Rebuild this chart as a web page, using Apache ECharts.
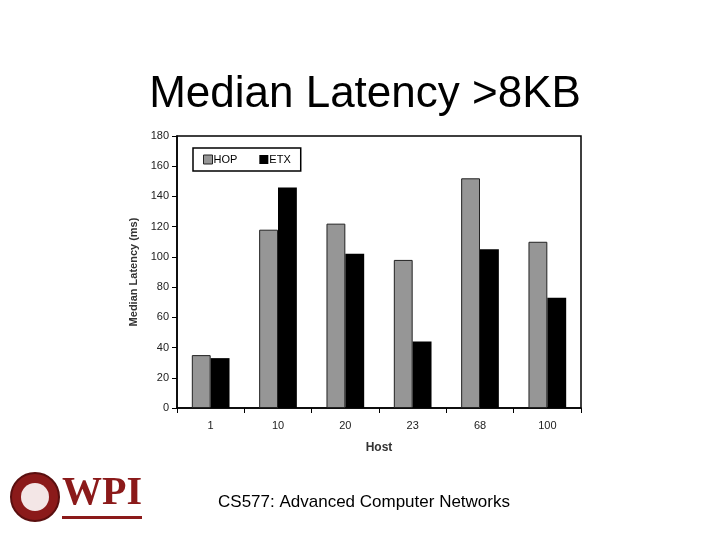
<!DOCTYPE html>
<html><head><meta charset="utf-8">
<script src="https://cdn.jsdelivr.net/npm/echarts@6/dist/echarts.min.js"></script>
<style>html,body{margin:0;padding:0;background:#fff}#c{width:720px;height:540px}</style>
</head><body><div id="c"></div>
<script>
const hosts = ['1','10','20','23','68','100'];
const hop = [35, 118, 122, 98, 152, 110];
const etx = [33, 146, 102, 44, 105, 73];
const yTicks = [0,20,40,60,80,100,120,140,160,180];

const chart = echarts.init(document.getElementById('c'));
chart.setOption({
  animation:false,
  backgroundColor:'#fff',
  title:[{text:'Median Latency >8KB',left:360,top:68,textAlign:'center',textStyle:{fontFamily:'Liberation Sans',fontSize:44,fontWeight:'normal',color:'#000'}},
         {text:'CS577: Advanced Computer Networks',left:359,top:489,textAlign:'center',textStyle:{fontFamily:'Liberation Sans',fontSize:17,fontWeight:'normal',color:'#000'}}],
  legend:{left:193,top:148,icon:'rect',itemWidth:9,itemHeight:9,itemGap:22,padding:[6,10],borderColor:'#000',borderWidth:1.5,
    textStyle:{fontFamily:'Liberation Sans',fontSize:11,color:'#000',padding:[0,0,0,-4]},
    data:[{name:'HOP',itemStyle:{borderColor:'#222',borderWidth:1}},{name:'ETX'}]},
  grid:{left:177,right:139,top:136,bottom:132},
  xAxis:{type:'category',data:hosts,name:'Host',nameLocation:'middle',nameGap:34,
    nameTextStyle:{fontFamily:'Liberation Sans',fontSize:12,fontWeight:'bold',color:'#333'},
    axisLine:{lineStyle:{color:'#000',width:1.5}},axisTick:{show:true,lineStyle:{color:'#000'}},
    axisLabel:{fontFamily:'Liberation Sans',fontSize:11,color:'#222',margin:12}},
  yAxis:{type:'value',min:0,max:180,interval:20,name:'Median Latency (ms)',nameLocation:'middle',nameGap:37,
    nameTextStyle:{fontFamily:'Liberation Sans',fontSize:11,fontWeight:'bold',color:'#333'},
    axisLine:{show:true,lineStyle:{color:'#000',width:1.5}},axisTick:{show:true,inside:false,lineStyle:{color:'#000'}},
    splitLine:{show:false},
    axisLabel:{fontFamily:'Liberation Sans',fontSize:11,color:'#222',formatter:v=>yTicks.includes(v)?String(v):''}},
  graphic:[
    {type:'rect',shape:{x:177,y:136,width:404,height:272},style:{fill:'none',stroke:'#000',lineWidth:1.5},silent:true},
    {type:'circle',shape:{cx:35,cy:497,r:24},style:{fill:'#8b1a1a',stroke:'#5a0f0f',lineWidth:2}},
    {type:'circle',shape:{cx:35,cy:497,r:14},style:{fill:'#f3e6e6'}},
    {type:'text',left:62,top:474,style:{text:'WPI',font:'bold 40px "Liberation Serif"',fill:'#8b1a1a'}},
    {type:'rect',shape:{x:62,y:516,width:80,height:3},style:{fill:'#8b1a1a'}}
  ],
  series:[
    {name:'HOP',type:'bar',data:hop,barGap:'0%',barCategoryGap:'44%',itemStyle:{color:'#969696',borderColor:'#222',borderWidth:1}},
    {name:'ETX',type:'bar',data:etx,itemStyle:{color:'#000'}}
  ]
});
</script></body></html>
